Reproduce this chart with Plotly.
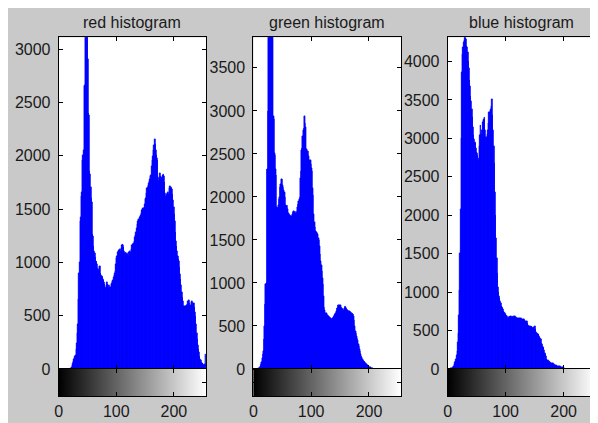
import plotly.graph_objects as go

levels = list(range(256))

red_counts = [
    0, 0, 0, 0, 0, 0, 0, 0, 0, 0, 0, 0, 0, 0, 0, 0, 0, 0, 0, 0, 0, 5, 10, 20,
    30, 50, 70, 90, 100, 115, 125, 180, 245, 330, 420, 650, 900, 1000, 1380, 1420,
    1620, 1660, 1960, 2000, 2050, 2650, 2660, 3500, 3800, 3400, 3200, 2900, 2400, 2380,
    1850, 1830, 1700, 1600, 1560, 1260, 1240, 1150, 1100, 1080, 1050, 1000, 1010, 980,
    940, 920, 930, 960, 965, 900, 880, 870, 860, 840, 830, 810, 790, 770, 760, 780,
    810, 790, 760, 760, 780, 770, 765, 770, 790, 800, 820, 830, 860, 880, 900, 920,
    980, 1040, 1060, 1090, 1100, 1110, 1115, 1120, 1100, 1130, 1160, 1170, 1160, 1140,
    1100, 1080, 1090, 1070, 1060, 1080, 1075, 1060, 1090, 1080, 1100, 1090, 1086, 1120,
    1163, 1170, 1175, 1180, 1200, 1230, 1254, 1280, 1320, 1361, 1380, 1400, 1407, 1420,
    1430, 1437, 1460, 1490, 1498, 1505, 1510, 1514, 1540, 1590, 1600, 1650, 1697, 1700,
    1720, 1743, 1760, 1780, 1804, 1820, 1900, 1956, 1990, 2048, 2100, 2154, 2110, 2048,
    2000, 1980, 1956, 1800, 1773, 1790, 1834, 1810, 1773, 1780, 1800, 1819, 1830, 1804,
    1750, 1650, 1605, 1620, 1640, 1651, 1660, 1636, 1640, 1690, 1712, 1700, 1690, 1682,
    1640, 1580, 1514, 1450, 1380, 1285, 1200, 1150, 1102, 1060, 1030, 1010, 950, 890,
    842, 780, 720, 674, 630, 590, 583, 585, 583, 590, 595, 598, 610, 630, 644, 620,
    590, 570, 600, 625, 630, 620, 610, 613, 580, 530, 491, 420, 330, 278, 220, 180,
    156, 120, 90, 79, 65, 55, 49, 42, 35, 34, 40, 140,
]

green_counts = [
    0, 0, 0, 0, 0, 0, 0, 0, 0, 3, 6, 10, 19, 35, 55, 76, 120, 170, 209, 350,
    494, 750, 987, 1000, 2316, 2320, 3000, 4200, 5000, 5200, 4800, 4500, 4300, 4100, 3950, 2942,
    2900, 2506, 2480, 2316, 2250, 1879, 1870, 1880, 1900, 1974, 2000, 2107, 2150, 2210,
    2200, 2130, 2107, 2080, 2050, 1990, 1900, 1879, 1890, 1900, 1850, 1804, 1800, 1785,
    1790, 1770, 1760, 1780, 1800, 1822, 1830, 1825, 1822, 1830, 1815, 1804, 1830, 1880,
    1917, 1950, 1974, 1990, 2221, 2300, 2544, 2560, 2700, 2771, 2800, 2931, 2850, 2810,
    2552, 2550, 2530, 2525, 2470, 2411, 2420, 2430, 2380, 2335, 2300, 2100, 2013, 1800,
    1709, 1650, 1595, 1590, 1585, 1580, 1560, 1519, 1500, 1420, 1329, 1250, 1200, 1139,
    1050, 987, 850, 720, 683, 650, 645, 650, 626, 620, 610, 607, 600, 590, 588, 580,
    578, 577, 590, 600, 607, 620, 635, 645, 670, 700, 702, 740, 745, 740, 742, 740,
    720, 705, 702, 690, 685, 683, 700, 729, 720, 700, 690, 683, 670, 665, 664, 670,
    664, 660, 650, 645, 640, 630, 607, 560, 500, 437, 410, 380, 361, 330, 290, 266,
    230, 200, 171, 150, 130, 114, 100, 90, 84, 78, 70, 68, 55, 45, 38, 32,
    27, 22, 18, 15, 10, 6, 3, 2, 0, 0, 0, 0, 0, 0, 0, 0,
    0, 0, 0, 0, 0, 0, 0, 0, 0, 0, 0, 0, 0, 0, 0, 0,
    0, 0, 0, 0, 0, 0, 0, 0, 0, 0, 0, 0, 0, 0, 0, 0,
    0, 0, 0, 0, 0, 0, 0, 0, 0, 0, 0, 0, 0, 0, 0, 0,
]

blue_counts = [
    0, 0, 0, 0, 0, 3, 6, 8, 12, 18, 22, 40, 64, 85, 105, 127, 180, 234, 350, 467,
    700, 1019, 1500, 2081, 3000, 3864, 4100, 4183, 4247, 4280, 4310, 4300, 4290, 4200, 4183, 4119,
    4000, 3907, 3750, 3673, 3550, 3482, 3380, 3270, 3150, 3036, 2990, 2950, 2930, 2870,
    2824, 2800, 2781, 2740, 2718, 2900, 3036, 3164, 3050, 2994, 3100, 3206, 3230, 3250,
    3270, 3100, 3015, 3010, 3015, 3050, 3100, 3200, 3334, 3340, 3360, 3376, 3420, 3504,
    3300, 3100, 2900, 2675, 2300, 1996, 1700, 1444, 1250, 1062, 1000, 950, 913, 880,
    849, 820, 800, 786, 770, 755, 743, 725, 710, 700, 690, 680, 665, 658, 670, 680,
    670, 680, 685, 672, 680, 658, 670, 688, 676, 688, 670, 665, 658, 662, 660, 655,
    658, 658, 650, 655, 650, 648, 645, 645, 640, 630, 616, 616, 618, 616, 600, 570,
    552, 550, 552, 552, 548, 552, 540, 535, 531, 540, 545, 552, 520, 480, 467, 460,
    450, 446, 430, 415, 404, 380, 340, 319, 300, 285, 276, 240, 205, 191, 160, 127,
    115, 110, 106, 98, 90, 85, 80, 78, 76, 72, 68, 64, 58, 54, 51, 46,
    42, 40, 37, 34, 32, 31, 30, 26, 23, 21, 21, 21, 21, 12, 5, 0,
    0, 0, 0, 0, 0, 0, 0, 0, 0, 0, 0, 0, 0, 0, 0, 0,
    0, 0, 0, 0, 0, 0, 0, 0, 0, 0, 0, 0, 0, 0, 0, 0,
    0, 0, 0, 0, 0, 0, 0, 0, 0, 0, 0, 0, 0, 0, 0, 0,
    0, 0, 0, 0, 0, 0, 0, 0, 0, 0, 0, 0, 0, 0, 0, 0,
]

titles = ["red histogram", "green histogram", "blue histogram"]
y_max = [3110, 3855, 4315]
y_ticks = [list(range(0, 3001, 500)), list(range(0, 3501, 500)), list(range(0, 4001, 500))]
x_ticks = [0, 100, 200]

# figure sits inside the page body (8px default margin)
OFF = 8
W, H = 598 - OFF, 423 - OFF
x_px = [(55, 203.5), (251, 400), (446.7, 596)]
hist_top, hist_bot, bar_bot = 38, 377, 405


def fx(p):
    return (p - OFF) / W


def fy(p):
    return (H - (p - OFF)) / H


font = dict(family="Liberation Sans, Arial, sans-serif", size=16, color="#1a1a1a")

fig = go.Figure()
layout = dict(
    width=W, height=H,
    margin=dict(l=0, r=0, t=0, b=0),
    paper_bgcolor="#c9c9c9",
    plot_bgcolor="white",
    showlegend=False,
    bargap=0,
    font=font,
    annotations=[],
)

series = [red_counts, green_counts, blue_counts]
for i in range(3):
    hx = 2 * i + 1
    cx = 2 * i + 2
    xd = [fx(x_px[i][0]), min(1.0, fx(x_px[i][1]))]
    fig.add_trace(go.Bar(
        x=levels, y=series[i], width=1,
        marker=dict(color="#0000ff", line=dict(width=0.8, color="#0000ff")),
        xaxis=f"x{hx}", yaxis=f"y{hx}", hoverinfo="skip",
    ))
    fig.add_trace(go.Heatmap(
        x=levels, y=[0], z=[levels],
        colorscale=[[0, "#000000"], [1, "#ffffff"]], showscale=False,
        xaxis=f"x{cx}", yaxis=f"y{cx}", hoverinfo="skip",
    ))
    common_ax = dict(showline=True, linecolor="black", linewidth=1, mirror="ticks",
                     ticks="inside", ticklen=4, tickcolor="black", showgrid=False,
                     zeroline=False, fixedrange=True)
    layout[f"xaxis{hx}"] = dict(domain=xd, range=[0, 256], anchor=f"y{hx}",
                                tickvals=x_ticks, showticklabels=False, **common_ax)
    layout[f"yaxis{hx}"] = dict(domain=[fy(hist_bot), fy(hist_top)], range=[0, y_max[i]],
                                anchor=f"x{hx}", tickvals=y_ticks[i], tickfont=font,
                                ticklabelstandoff=4, **common_ax)
    layout[f"xaxis{cx}"] = dict(domain=xd, range=[0, 256], anchor=f"y{cx}",
                                tickvals=x_ticks, tickfont=font, ticklabelstandoff=0,
                                **common_ax)
    layout[f"yaxis{cx}"] = dict(domain=[fy(bar_bot), fy(hist_bot)], range=[-0.5, 0.5],
                                anchor=f"x{cx}", tickvals=[0], showticklabels=False,
                                **common_ax)
    layout["annotations"].append(dict(
        text=titles[i], xref="paper", yref="paper",
        x=(xd[0] + xd[1]) / 2, y=fy(22.5), showarrow=False,
        xanchor="center", yanchor="middle", font=font,
    ))

fig.update_layout(**layout)
fig.write_html("out.html", config={"displayModeBar": False})
